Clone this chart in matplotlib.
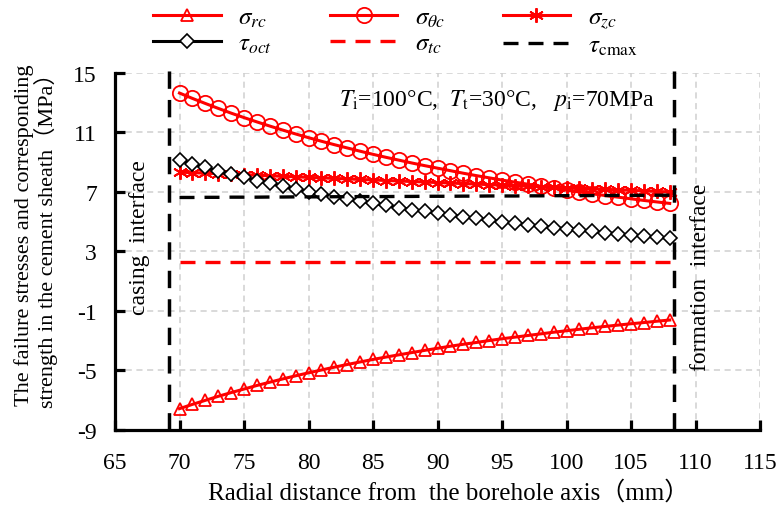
import matplotlib
matplotlib.use("Agg")
import matplotlib.pyplot as plt

plt.rcParams["font.family"] = ["Liberation Serif", "Noto Sans CJK SC"]
plt.rcParams["mathtext.fontset"] = "stix"
plt.rcParams["axes.unicode_minus"] = False

# radial positions inside the cement sheath (mm)
r = list(range(70, 109))

sigma_rc = [-7.60, -7.31, -7.04, -6.77, -6.52, -6.28, -6.04, -5.82, -5.60, -5.39,
            -5.19, -5.00, -4.81, -4.63, -4.46, -4.29, -4.13, -3.98, -3.83, -3.68,
            -3.54, -3.40, -3.27, -3.15, -3.02, -2.90, -2.79, -2.68, -2.57, -2.46,
            -2.36, -2.26, -2.16, -2.07, -1.98, -1.89, -1.81, -1.72, -1.64]

sigma_theta_c = [13.62, 13.26, 12.92, 12.59, 12.27, 11.97, 11.68, 11.40, 11.13, 10.87,
                 10.62, 10.38, 10.15, 9.93, 9.71, 9.50, 9.30, 9.11, 8.92, 8.74,
                 8.57, 8.40, 8.23, 8.07, 7.92, 7.77, 7.63, 7.49, 7.35, 7.22,
                 7.09, 6.97, 6.85, 6.73, 6.62, 6.51, 6.40, 6.30, 6.20]

sigma_zc = [8.30, 8.27, 8.23, 8.20, 8.16, 8.13, 8.09, 8.06, 8.02, 7.99,
            7.95, 7.92, 7.88, 7.85, 7.81, 7.78, 7.74, 7.71, 7.67, 7.64,
            7.60, 7.57, 7.53, 7.50, 7.46, 7.43, 7.39, 7.36, 7.32, 7.29,
            7.25, 7.22, 7.18, 7.15, 7.11, 7.08, 7.04, 7.01, 6.97]

tau_oct = [9.12, 8.87, 8.62, 8.39, 8.17, 7.95, 7.74, 7.55, 7.36, 7.17,
           6.99, 6.82, 6.66, 6.50, 6.35, 6.20, 6.06, 5.92, 5.79, 5.66,
           5.54, 5.42, 5.30, 5.19, 5.08, 4.97, 4.87, 4.77, 4.68, 4.58,
           4.49, 4.41, 4.32, 4.24, 4.16, 4.08, 4.01, 3.93, 3.86]

sigma_tc = [2.28] * len(r)

tau_cmax = [6.60, 6.60, 6.61, 6.61, 6.62, 6.62, 6.62, 6.63, 6.63, 6.64,
            6.64, 6.64, 6.65, 6.65, 6.66, 6.66, 6.66, 6.67, 6.67, 6.68,
            6.68, 6.68, 6.69, 6.69, 6.70, 6.70, 6.70, 6.71, 6.71, 6.72,
            6.72, 6.72, 6.73, 6.73, 6.74, 6.74, 6.74, 6.75, 6.75]

casing_r = 69.2
formation_r = 108.3

x_ticks = [65, 70, 75, 80, 85, 90, 95, 100, 105, 110, 115]
y_ticks = [-9, -5, -1, 3, 7, 11, 15]

red = "#ff0000"

fig = plt.figure(figsize=(7.76, 5.06), dpi=100)
ax = fig.add_axes([0.1482, 0.1492, 0.8312, 0.7055])

lw = 2.2
h_rc, = ax.plot(r, sigma_rc, color=red, lw=lw, marker="^", ms=9,
                mfc="none", mec=red, mew=1.3, label=r"$\sigma_{rc}$")
h_tc, = ax.plot(r, sigma_theta_c, color=red, lw=lw, marker="o", ms=11,
                mfc="none", mec=red, mew=1.3, label=r"$\sigma_{\theta c}$")
h_zc, = ax.plot(r, sigma_zc, color=red, lw=lw, marker=(6, 2, 0), ms=10.5,
                mec=red, mew=1.4, label=r"$\sigma_{zc}$")
h_oct, = ax.plot(r, tau_oct, color="black", lw=lw, marker="D", ms=7,
                 mfc="white", mec="black", mew=1.2, label=r"$\tau_{oct}$")
h_st, = ax.plot(r, sigma_tc, color=red, lw=2.4, ls=(0, (4.5, 3.0)),
                label=r"$\sigma_{tc}$")
h_cm, = ax.plot(r, tau_cmax, color="black", lw=2.4, ls=(0, (4.5, 3.0)),
                label=r"$\tau_{\mathrm{cmax}}$")

for xv in (casing_r, formation_r):
    ax.plot([xv, xv], [-9, 15.4], color="black", lw=2.5, ls=(0, (5, 3.2)),
            clip_on=False, zorder=5)

ax.set_xlim(65, 115)
ax.set_ylim(-9, 15)
ax.set_xticks(x_ticks)
ax.set_yticks(y_ticks)
ax.grid(True, color="#cfcfcf", ls=(0, (4, 3)), lw=1.1)
ax.set_axisbelow(True)

for s in ("top", "right"):
    ax.spines[s].set_visible(False)
for s in ("left", "bottom"):
    ax.spines[s].set_linewidth(2.3)
ax.tick_params(direction="in", length=7, width=2.3, labelsize=17)
ax.tick_params(axis="x", pad=16)
ax.tick_params(axis="y", pad=13)

ax.set_xlabel("Radial distance from  the borehole axis（mm）", fontsize=18)
ax.xaxis.set_label_coords(0.517, -0.142)
ax.set_ylabel("The failure stresses and corresponding\nstrength in the cement sheath（MPa）",
              fontsize=16, linespacing=1.0)
ax.yaxis.set_label_coords(-0.088, 0.548)

ax.text(94.6, 13.2, r"$T_{\mathrm{i}}$=100°C,  $T_{\mathrm{t}}$=30°C,   $p_{\mathrm{i}}$=70MPa",
        fontsize=17, ha="center", va="center")
ax.text(66.9, 3.95, "casing  interface", rotation=90, fontsize=17,
        ha="center", va="center")
ax.text(110.4, 1.3, "formation  interface", rotation=90, fontsize=17,
        ha="center", va="center")

handles = [h_rc, h_oct, h_tc, h_st, h_zc, h_cm]
fig.legend(handles, [h.get_label() for h in handles], ncol=3, loc="upper left",
           bbox_to_anchor=(0.18, 1.012), frameon=False, fontsize=18,
           handlelength=2.7, handletextpad=0.7, columnspacing=2.3,
           labelspacing=0.12, borderaxespad=0.15)

fig.savefig("out.png", dpi=100)
